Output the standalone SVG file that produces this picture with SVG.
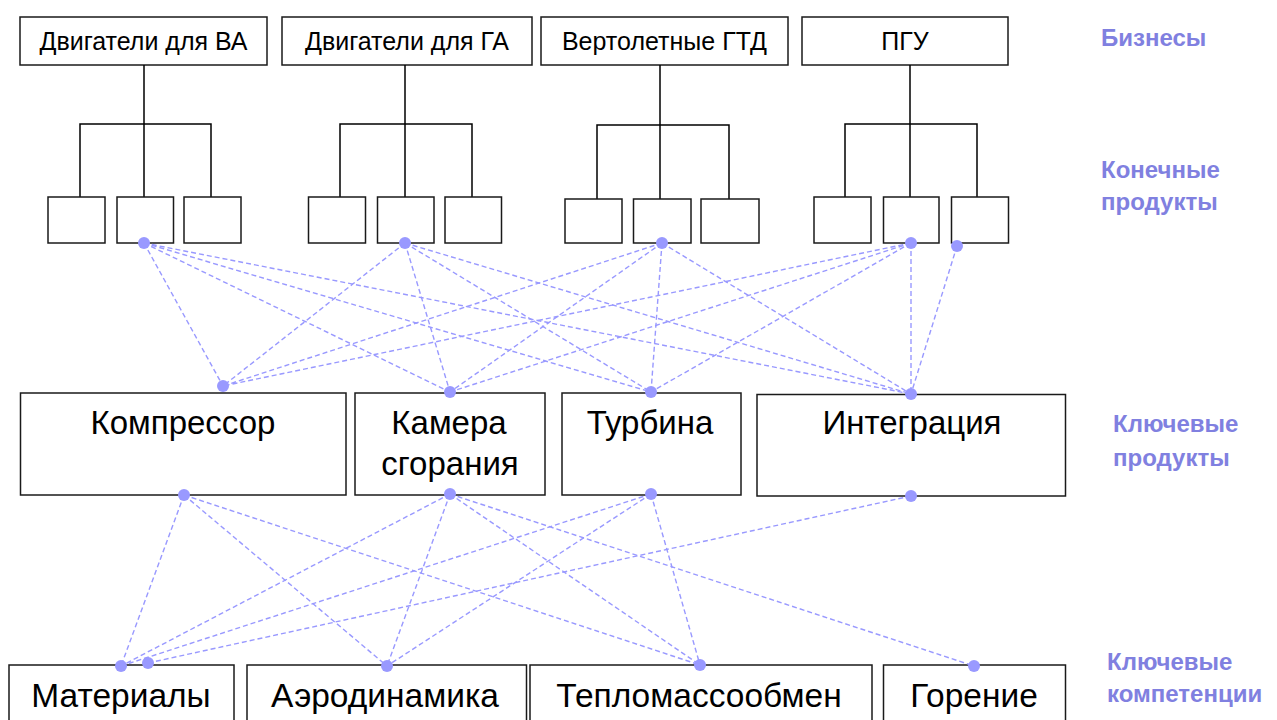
<svg xmlns="http://www.w3.org/2000/svg" width="1277" height="720" viewBox="0 0 1277 720">
  <style>
    .box { fill: #ffffff; stroke: #1a1a1a; stroke-width: 1.5; }
    .tree { fill: none; stroke: #000000; stroke-width: 1.5; }
    .link { fill: none; stroke: #9999ff; stroke-width: 1.4; stroke-dasharray: 5 3; }
    .dot { fill: #9999ff; }
    .t-top { font-family: "Liberation Sans", Arial, sans-serif; font-size: 25px; fill: #000; text-anchor: middle; }
    .t-mid { font-family: "Liberation Sans", Arial, sans-serif; font-size: 33px; fill: #000; text-anchor: middle; }
    .t-low { font-family: "Liberation Sans", Arial, sans-serif; font-size: 33.5px; fill: #000; text-anchor: middle; }
    .lvl { font-family: "Liberation Sans", Arial, sans-serif; font-size: 24px; font-weight: bold; fill: #8080e0; }
  </style>
  <rect width="1277" height="720" fill="#ffffff"/>

  <!-- Business level -->
  <g id="biz-va"><rect class="box" x="20" y="17" width="247" height="48"/><text class="t-top" x="143.5" y="50">Двигатели для ВА</text></g>
  <g id="biz-ga"><rect class="box" x="282" y="17" width="250" height="48"/><text class="t-top" x="407" y="50">Двигатели для ГА</text></g>
  <g id="biz-heli"><rect class="box" x="541" y="17" width="247" height="48"/><text class="t-top" x="664.5" y="50">Вертолетные ГТД</text></g>
  <g id="biz-pgu"><rect class="box" x="802" y="17" width="206" height="48"/><text class="t-top" x="905" y="50">ПГУ</text></g>

  <!-- Tree connectors from businesses to end products -->
  <g id="tree-connectors">
    <path class="tree" d="M144 65 V197 M80 197 V124 H211 V197"/>
    <path class="tree" d="M405 65 V197 M340 197 V124 H472 V197"/>
    <path class="tree" d="M660 65 V199 M597 199 V125 H729 V199"/>
    <path class="tree" d="M910 65 V197 M845 197 V124 H977 V197"/>
  </g>

  <!-- End products -->
  <g id="end-va">
    <rect class="box" x="48" y="197" width="57" height="46"/>
    <rect class="box" x="117" y="197" width="56.5" height="46"/>
    <rect class="box" x="184" y="197" width="57" height="46"/>
  </g>
  <g id="end-ga">
    <rect class="box" x="308.5" y="197" width="57" height="46"/>
    <rect class="box" x="377.5" y="197" width="56.5" height="46"/>
    <rect class="box" x="445" y="197" width="56.5" height="46"/>
  </g>
  <g id="end-heli">
    <rect class="box" x="565" y="199" width="57" height="44"/>
    <rect class="box" x="633.5" y="199" width="57.5" height="44"/>
    <rect class="box" x="701" y="199" width="58" height="44"/>
  </g>
  <g id="end-pgu">
    <rect class="box" x="814" y="197" width="57" height="46"/>
    <rect class="box" x="883.5" y="197" width="55.5" height="46"/>
    <rect class="box" x="951.5" y="197" width="57" height="46"/>
  </g>

  <!-- Key products -->
  <g id="kp-compressor"><rect class="box" x="20.5" y="393" width="325.5" height="102"/><text class="t-mid" x="183" y="434">Компрессор</text></g>
  <g id="kp-chamber"><rect class="box" x="355" y="393" width="190" height="102"/><text class="t-mid" x="449" y="434">Камера</text><text class="t-mid" x="450" y="475">сгорания</text></g>
  <g id="kp-turbine"><rect class="box" x="562" y="393" width="179" height="102"/><text class="t-mid" x="650" y="434">Турбина</text></g>
  <g id="kp-integration"><rect class="box" x="757" y="394.5" width="308.5" height="101.5"/><text class="t-mid" x="912" y="434">Интеграция</text></g>

  <!-- Key competences -->
  <g id="kc-materials"><rect class="box" x="9" y="665" width="225" height="70"/><text class="t-low" x="121" y="707">Материалы</text></g>
  <g id="kc-aero"><rect class="box" x="247" y="665" width="279.5" height="70"/><text class="t-low" x="385" y="707">Аэродинамика</text></g>
  <g id="kc-heat"><rect class="box" x="530" y="665" width="342" height="70"/><text class="t-low" x="699" y="707">Тепломассообмен</text></g>
  <g id="kc-combustion"><rect class="box" x="883.5" y="665" width="182" height="70"/><text class="t-low" x="974" y="707">Горение</text></g>

  <!-- Dependency links -->
  <g id="links">
    <!-- end products to key products -->
    <line class="link" x1="144" y1="243" x2="223" y2="386"/>
    <line class="link" x1="144" y1="243" x2="450" y2="392"/>
    <line class="link" x1="144" y1="243" x2="651" y2="392"/>
    <line class="link" x1="144" y1="243" x2="911" y2="394"/>
    <line class="link" x1="405" y1="243" x2="223" y2="386"/>
    <line class="link" x1="405" y1="243" x2="450" y2="392"/>
    <line class="link" x1="405" y1="243" x2="651" y2="392"/>
    <line class="link" x1="405" y1="243" x2="911" y2="394"/>
    <line class="link" x1="662" y1="243" x2="223" y2="386"/>
    <line class="link" x1="662" y1="243" x2="450" y2="392"/>
    <line class="link" x1="662" y1="243" x2="651" y2="392"/>
    <line class="link" x1="662" y1="243" x2="911" y2="394"/>
    <line class="link" x1="911" y1="243" x2="223" y2="386"/>
    <line class="link" x1="911" y1="243" x2="450" y2="392"/>
    <line class="link" x1="911" y1="243" x2="651" y2="392"/>
    <line class="link" x1="911" y1="243" x2="911" y2="394"/>
    <line class="link" x1="957" y1="246" x2="911" y2="394"/>
    <!-- key products to competences -->
    <line class="link" x1="184" y1="495" x2="121" y2="666"/>
    <line class="link" x1="184" y1="495" x2="387" y2="666"/>
    <line class="link" x1="184" y1="495" x2="700" y2="665"/>
    <line class="link" x1="450" y1="494" x2="121" y2="666"/>
    <line class="link" x1="450" y1="494" x2="387" y2="666"/>
    <line class="link" x1="450" y1="494" x2="700" y2="665"/>
    <line class="link" x1="450" y1="494" x2="974" y2="666"/>
    <line class="link" x1="651" y1="494" x2="121" y2="666"/>
    <line class="link" x1="651" y1="494" x2="387" y2="666"/>
    <line class="link" x1="651" y1="494" x2="700" y2="665"/>
    <line class="link" x1="911" y1="496" x2="148" y2="663"/>
  </g>

  <!-- Link endpoints -->
  <g id="link-dots">
    <circle class="dot" cx="144" cy="243" r="6"/>
    <circle class="dot" cx="405" cy="243" r="6"/>
    <circle class="dot" cx="662" cy="243" r="6"/>
    <circle class="dot" cx="911" cy="243" r="6"/>
    <circle class="dot" cx="957" cy="246" r="6"/>
    <circle class="dot" cx="223" cy="386" r="6"/>
    <circle class="dot" cx="450" cy="392" r="6"/>
    <circle class="dot" cx="651" cy="392" r="6"/>
    <circle class="dot" cx="911" cy="394" r="6"/>
    <circle class="dot" cx="184" cy="495" r="6"/>
    <circle class="dot" cx="450" cy="494" r="6"/>
    <circle class="dot" cx="651" cy="494" r="6"/>
    <circle class="dot" cx="911" cy="496" r="6"/>
    <circle class="dot" cx="121" cy="666" r="6"/>
    <circle class="dot" cx="148" cy="663" r="6"/>
    <circle class="dot" cx="387" cy="666" r="6"/>
    <circle class="dot" cx="700" cy="665" r="6"/>
    <circle class="dot" cx="974" cy="666" r="6"/>
  </g>

  <!-- Level captions -->
  <g id="level-labels">
    <text class="lvl" x="1101" y="46">Бизнесы</text>
    <text class="lvl" x="1101" y="178">Конечные</text>
    <text class="lvl" x="1101" y="210">продукты</text>
    <text class="lvl" x="1113" y="432">Ключевые</text>
    <text class="lvl" x="1113" y="466">продукты</text>
    <text class="lvl" x="1107" y="670">Ключевые</text>
    <text class="lvl" x="1107" y="702">компетенции</text>
  </g>
</svg>
